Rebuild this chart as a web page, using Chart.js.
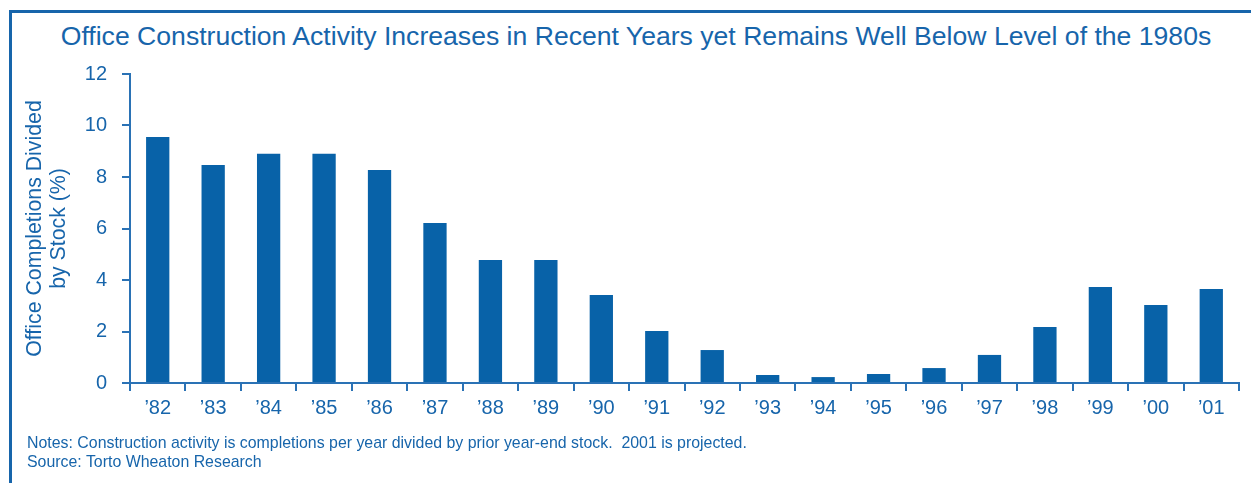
<!DOCTYPE html>
<html>
<head>
<meta charset="utf-8">
<script src="https://cdn.jsdelivr.net/npm/chart.js@4"></script>
<style>
  html, body { margin: 0; padding: 0; background: #fff; }
  #wrap { position: relative; width: 1251px; height: 483px; overflow: hidden; font-family: "Liberation Sans", Arial, sans-serif; }
  #frame { position: absolute; left: 9px; top: 10px; width: 1300px; height: 600px; border-left: 3px solid #1765ab; border-top: 3px solid #1765ab; }
  #title { position: absolute; left: 0; width: 1272px; top: 21px; text-align: center; font-size: 26.6px; color: #1765ab; white-space: nowrap; }
  #notes { position: absolute; left: 27px; top: 433px; font-size: 15.9px; line-height: 19px; color: #1765ab; white-space: nowrap; }
  canvas { position: absolute; left: 0; top: 0; }
</style>
</head>
<body>
<div id="wrap">
  <div id="frame"></div>
  <div id="title">Office Construction Activity Increases in Recent Years yet Remains Well Below Level of the 1980s</div>
  <canvas id="myChart" width="1251" height="483"></canvas>
  <div id="notes">Notes: Construction activity is completions per year divided by prior year-end stock.&nbsp; 2001 is projected.<br>Source: Torto Wheaton Research</div>
</div>
<script>
const years = ["’82", "’83", "’84", "’85", "’86", "’87", "’88", "’89", "’90", "’91",
               "’92", "’93", "’94", "’95", "’96", "’97", "’98", "’99", "’00", "’01"];
// completions / stock (%)
const completions = [9.55, 8.47, 8.9, 8.9, 8.27, 6.21, 4.78, 4.78, 3.42, 2.02,
                     1.28, 0.31, 0.23, 0.35, 0.58, 1.09, 2.17, 3.73, 3.03, 3.65];
const yTicks = [0, 2, 4, 6, 8, 10, 12];

const blue = '#1765ab';
const axisBlue = '#2a72b5';

const ctx = document.getElementById('myChart');
const myChart = new Chart(ctx, {
    type: 'bar',
    data: {
        labels: years,
        datasets: [{
            data: completions,
            backgroundColor: '#0862a8',
            barPercentage: 0.42,
            categoryPercentage: 1.0
        }]
    },
    options: {
        responsive: false,
        devicePixelRatio: 1,
        animation: false,
        layout: { padding: { top: 74, right: 12, bottom: 0, left: 0 } },
        plugins: {
            legend: { display: false },
            tooltip: { enabled: false }
        },
        scales: {
            x: {
                grid: { display: true, drawOnChartArea: false, drawTicks: true, tickLength: 8, color: axisBlue, lineWidth: 2, offset: true },
                border: { display: true, color: axisBlue, width: 2 },
                ticks: { color: blue, font: { family: 'Liberation Sans', size: 20 }, padding: 5 },
                afterFit: s => { s.height = 100; }
            },
            y: {
                min: 0,
                max: 12,
                afterBuildTicks: s => { s.ticks = yTicks.map(v => ({ value: v })); },
                grid: { display: true, drawOnChartArea: false, drawTicks: true, tickLength: 8, color: axisBlue, lineWidth: 2 },
                border: { display: true, color: axisBlue, width: 2 },
                ticks: { color: blue, font: { family: 'Liberation Sans', size: 20 }, padding: 15 },
                title: {
                    display: true,
                    text: ['Office Completions Divided', 'by Stock (%)'],
                    color: blue,
                    font: { family: 'Liberation Sans', size: 21.3, lineHeight: 1.13 },
                    padding: { top: 23, bottom: 0 }
                },
                afterFit: s => { s.width = 130; }
            }
        }
    }
});
</script>
</body>
</html>
